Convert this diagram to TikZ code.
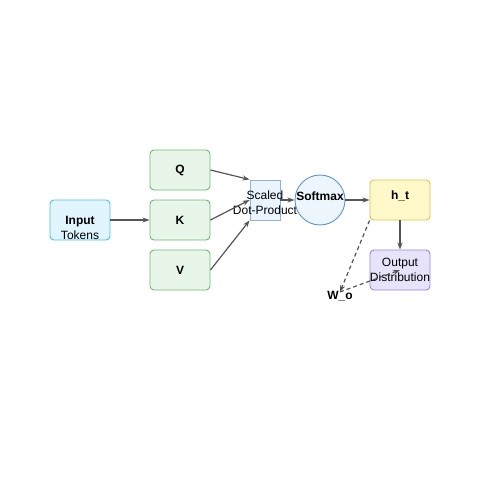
\documentclass[tikz,border=0pt]{standalone}
\usepackage{fontspec}
\setmainfont{Liberation Sans}
\usetikzlibrary{arrows.meta}

\definecolor{inline}{HTML}{4FBDF0}
\definecolor{infill}{HTML}{E1F5FE}
\definecolor{qkvline}{HTML}{6DBB6F}
\definecolor{qkvfill}{HTML}{E8F5E9}
\definecolor{sdpline}{HTML}{8FB3D6}
\definecolor{sdpfill}{HTML}{E9F4FD}
\definecolor{smline}{HTML}{5E94C6}
\definecolor{smfill}{HTML}{EEF6FD}
\definecolor{htline}{HTML}{E3C04E}
\definecolor{htfill}{HTML}{FFF8C8}
\definecolor{outline}{HTML}{9D86DE}
\definecolor{outfill}{HTML}{E7E3FA}
\definecolor{linkgray}{HTML}{555555}

\tikzset{
  box/.style={draw, rounded corners=4pt, line width=0.9pt,
    minimum width=60pt, minimum height=40pt, inner sep=0pt},
  txt/.style={font=\fontsize{12}{15}\selectfont, align=center, inner sep=0pt},
  link/.style={draw=linkgray, line width=1.2pt, -{Stealth[length=7pt,width=5pt]}},
  dlink/.style={link, dashed, dash pattern=on 4pt off 3pt},
}

\begin{document}
\begin{tikzpicture}[x=1pt,y=-1pt]
\useasboundingbox (0,0) rectangle (500,500);

% boxes
\node (inp) at (80,220) [box, draw=inline, fill=infill] {};
\node (inptext) at (80,228) [txt] {\textbf{Input}\\Tokens};

\node (q) at (180,170) [box, draw=qkvline, fill=qkvfill, txt] {\textbf{Q}};
\node (k) at (180,220) [box, draw=qkvline, fill=qkvfill, txt] {\textbf{K}};
\node (v) at (180,270) [box, draw=qkvline, fill=qkvfill, txt] {\textbf{V}};

\node (sdp) at (265,200) [draw=sdpline, fill=sdpfill, line width=0.9pt,
  minimum width=30pt, minimum height=40pt, inner sep=0pt] {};
\node (sdptext) at (265,203) [txt] {Scaled\\Dot-Product};

\node (sm) at (320,200) [circle, draw=smline, fill=smfill, line width=0.9pt,
  minimum size=50pt, inner sep=0pt] {};
\node (smtext) at (320,196) [txt] {\textbf{Softmax}};

\node (ht) at (400,200) [box, draw=htline, fill=htfill] {};
\node (httext) at (400,196) [txt] {\textbf{h\_t}};

\node (out) at (400,270) [box, draw=outline, fill=outfill, txt] {Output\\Distribution};

\node (wo) at (340,296) [txt] {\textbf{W\_o}};

% connectors
\draw[link] (inp) -- (k);
\draw[link] (q.east) -- (sdp.north west);
\draw[link] (k.east) -- (sdp.west);
\draw[link] (v.east) -- (sdp.south west);
\draw[link] (sdp.east) -- (sm.west);
\draw[link] (sm.east) -- (ht.west);
\draw[link] (ht.south) -- (out.north);
\draw[dlink] (ht.south west) -- ([yshift=-1pt]wo.north);
\draw[dlink] ([yshift=-1pt]wo.north) -- (out.center);
\end{tikzpicture}
\end{document}
